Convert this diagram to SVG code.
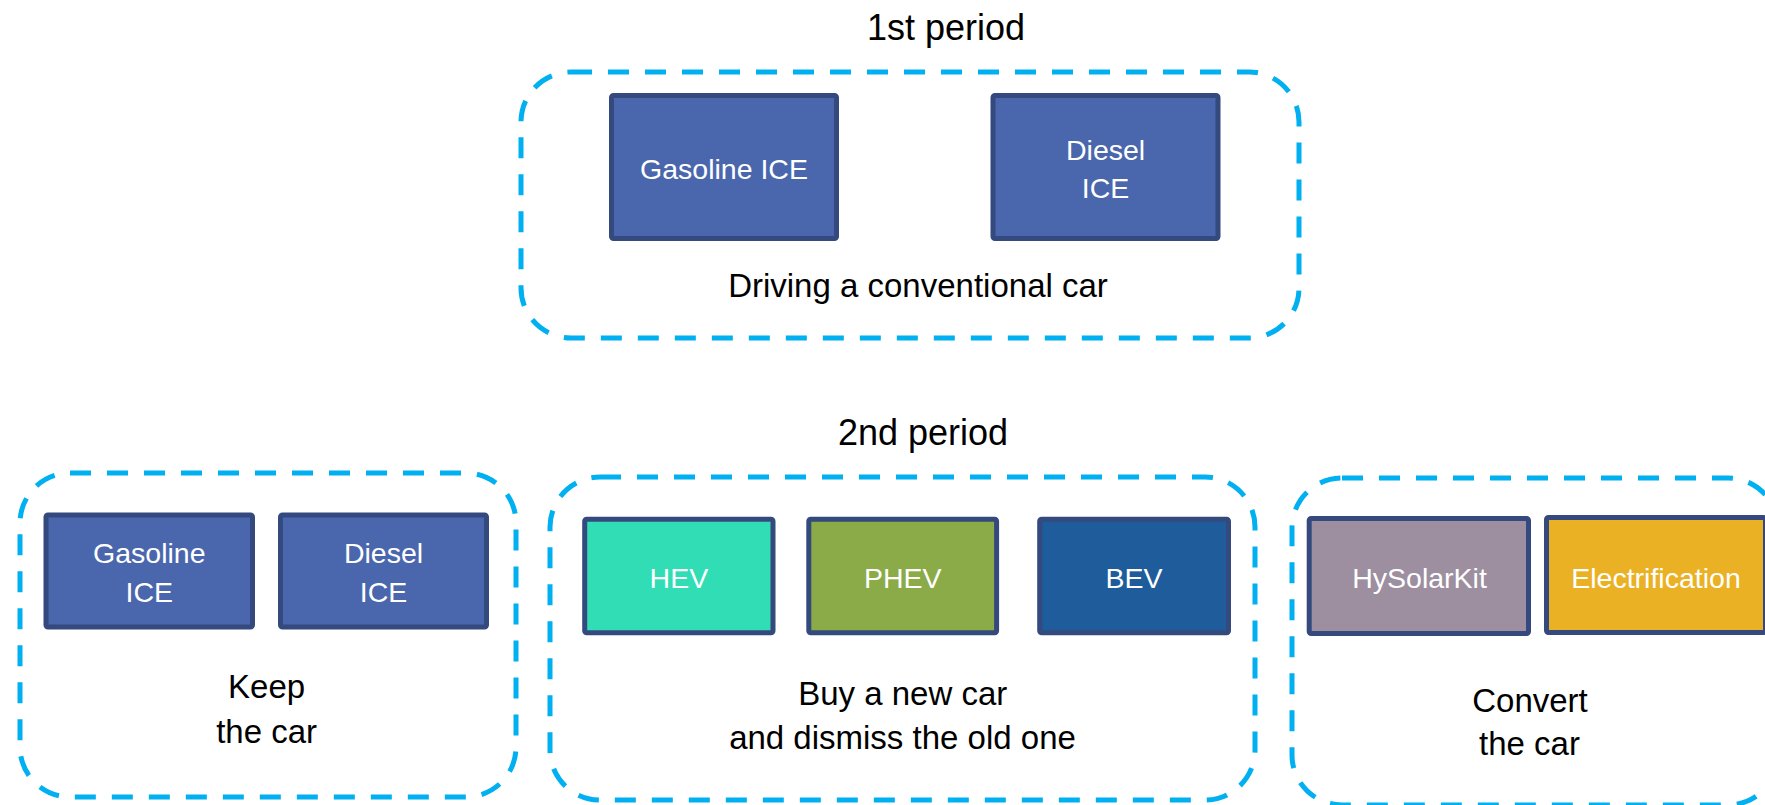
<svg xmlns="http://www.w3.org/2000/svg" width="1765" height="805" viewBox="0 0 1765 805">
<style>
.grp{fill:none;stroke:#00B0F0;stroke-width:5;stroke-dasharray:21 16}
.box{stroke:#34497D;stroke-width:5}
.ice{fill:#4A67AD}
.hev{fill:#30DDB5}
.phev{fill:#8AAB47}
.bev{fill:#1F5C9C}
.kit{fill:#9D8FA0}
.ele{fill:#EBB124}
text{font-family:"Liberation Sans",Arial,sans-serif;text-anchor:middle}
.t{font-size:36px;fill:#000}
.lbl{font-size:33px;fill:#000}
.bt{font-size:28.5px;fill:#FFFFFF}
</style>
<rect width="1765" height="805" fill="#FFFFFF"/>

<g id="period1">
  <text class="t" x="946" y="40">1st period</text>
  <rect class="grp" x="521" y="72" width="778" height="266" rx="50" ry="50"/>
  <text class="lbl" x="918" y="297">Driving a conventional car</text>
</g>
<g id="p1-gasoline">
  <rect class="box ice" x="611.5" y="95.5" width="225" height="143" rx="2"/>
  <text class="bt" x="724" y="179">Gasoline ICE</text>
</g>
<g id="p1-diesel">
  <rect class="box ice" x="993" y="95.5" width="225" height="143" rx="2"/>
  <text class="bt" x="1105.6" y="160">Diesel</text>
  <text class="bt" x="1105.6" y="198">ICE</text>
</g>

<text class="t" x="923" y="445">2nd period</text>

<g id="keep">
  <rect class="grp" x="20" y="473" width="496" height="324" rx="50" ry="50"/>
  <text class="lbl" x="266.6" y="698">Keep</text>
  <text class="lbl" x="266.6" y="743">the car</text>
</g>
<g id="keep-gasoline">
  <rect class="box ice" x="46" y="515" width="206.5" height="112" rx="2"/>
  <text class="bt" x="149.3" y="563">Gasoline</text>
  <text class="bt" x="149.3" y="602">ICE</text>
</g>
<g id="keep-diesel">
  <rect class="box ice" x="280.5" y="515" width="206" height="112" rx="2"/>
  <text class="bt" x="383.5" y="563">Diesel</text>
  <text class="bt" x="383.5" y="602">ICE</text>
</g>

<g id="buy">
  <rect class="grp" x="550" y="477" width="705" height="323" rx="50" ry="50"/>
  <text class="lbl" x="902.7" y="705">Buy a new car</text>
  <text class="lbl" x="902.5" y="749">and dismiss the old one</text>
</g>
<g id="hev">
  <rect class="box hev" x="584.7" y="519.2" width="188.3" height="113.6" rx="2"/>
  <text class="bt" x="678.9" y="588">HEV</text>
</g>
<g id="phev">
  <rect class="box phev" x="808.8" y="519.2" width="187.8" height="113.6" rx="2"/>
  <text class="bt" x="902.7" y="588">PHEV</text>
</g>
<g id="bev">
  <rect class="box bev" x="1039.7" y="519.2" width="188.8" height="113.6" rx="2"/>
  <text class="bt" x="1134.1" y="588">BEV</text>
</g>

<g id="convert">
  <rect class="grp" x="1292" y="478" width="486" height="327" rx="50" ry="50"/>
  <text class="lbl" x="1530" y="712">Convert</text>
  <text class="lbl" x="1529.5" y="755">the car</text>
</g>
<g id="hysolarkit">
  <rect class="box kit" x="1309.2" y="518.5" width="219.3" height="115" rx="2"/>
  <text class="bt" x="1419.5" y="588">HySolarKit</text>
</g>
<g id="electrification">
  <rect class="box ele" x="1546.5" y="517.5" width="219" height="115" rx="2"/>
  <text class="bt" x="1656" y="588">Electrification</text>
</g>

<g id="connectors"/>
</svg>
